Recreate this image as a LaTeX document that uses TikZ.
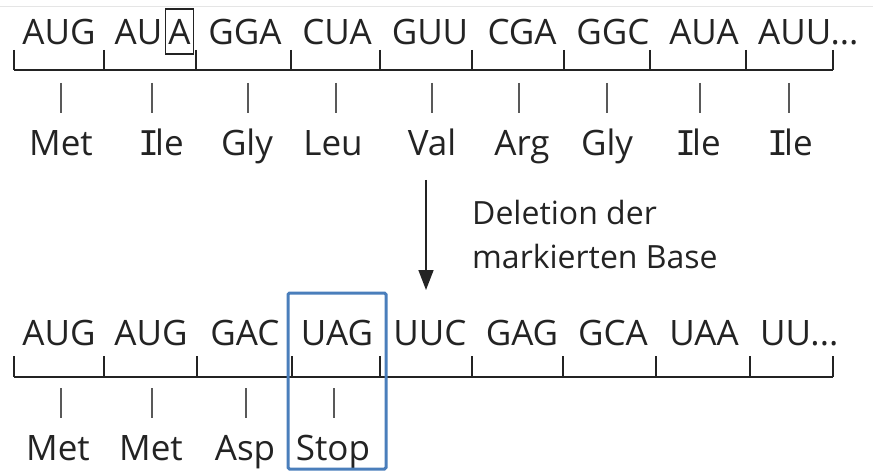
\documentclass[tikz,border=0pt]{standalone}
\usepackage{fontspec}
\setmainfont{Open Sans}
\newfontfamily\slabfont{DejaVu Sans Mono}
\usetikzlibrary{arrows.meta}
\newcommand\seqfont{\fontsize{35}{42}\selectfont}
\newcommand\notefont{\fontsize{32}{45}\selectfont}
% capital I with slab serifs, as in the amino acid labels
\newcommand\slabI{{\slabfont\fontsize{34}{42}\selectfont I}\kern-3.5pt}
\definecolor{markblue}{RGB}{74,126,187}
\definecolor{inkgray}{RGB}{35,35,35}
\begin{document}
\begin{tikzpicture}[x=1pt,y=-1pt,
  seq/.style={font=\seqfont, text=inkgray, inner sep=0pt, anchor=base},
  ruler/.style={line width=2pt, inkgray},
  segtick/.style={line width=1.6pt, inkgray},
  aatick/.style={line width=1.6pt, black!65},
  marked/.style={draw=inkgray, line width=1.5pt, inner xsep=3pt, inner ysep=3pt,
                 text height=33pt, text depth=6pt},
  highlight/.style={draw=markblue, line width=3pt, rounded corners=1.5pt},
  note/.style={font=\notefont, text=inkgray, inner sep=0pt, anchor=base west, align=left}]
\useasboundingbox (0,0) rectangle (873,476);

% faint frame line along the top
\draw[black!10, line width=0.8pt] (0,6) -- (873,6);

% ---------------- original sequence ----------------
\draw[ruler] (14,70) -- (833,70);
\foreach \x in {14,104,196,291,380,472,564,650,746,833}
  \draw[segtick] (\x,50) -- (\x,70);

\node[seq] (t1) at (59,45) {AUG};
\node[seq, marked, anchor=base] (t2m) at (179.5,45) {A};
\node[seq, anchor=base east] (t2) at (162.5,45) {AU};
\foreach \x/\t/\n in {245/GGA/3, 337/CUA/4, 430/GUU/5, 522/CGA/6, 613/GGC/7, 704/AUA/8}
  \node[seq] (t\n) at (\x,45) {\t};
\node[seq, anchor=base west] (t9) at (758,45) {AUU...};

\foreach \x in {61,152,248,336,432,519,607,700,789}
  \draw[aatick] (\x,83) -- (\x,113);
\foreach \x/\t/\n in {61/Met/1, 247/Gly/3, 333/Leu/4, 432/Val/5, 522/Arg/6, 607/Gly/7}
  \node[seq] (p\n) at (\x,156) {\t};
\foreach \x/\n in {161/2, 698/8, 790/9}
  \node[seq] (p\n) at (\x,156) {\slabI le};

% ---------------- deletion arrow ----------------
\coordinate (arrowtop) at (426,180);
\coordinate (arrowtip) at (426,290);
\draw[line width=1.6pt, inkgray, -{Triangle[width=15pt,length=20pt]}] (arrowtop) -- (arrowtip);
\node[note] (note1) at (472,224) {Deletion der};
\node[note] (note2) at (472,268) {markierten Base};

% ---------------- shifted sequence ----------------
\draw[ruler] (14,377) -- (833,377);
\foreach \x in {14,104,197,292,380,472,563,656,750,833}
  \draw[segtick] (\x,356) -- (\x,377);

\foreach \x/\t/\n in {59/AUG/1, 151/AUG/2, 245/GAC/3, 337/UAG/4, 430/UUC/5, 522/GAG/6, 613/GCA/7, 704/UAA/8}
  \node[seq] (b\n) at (\x,345) {\t};
\node[seq, anchor=base west] (b9) at (760,345) {UU...};

\foreach \x in {61,152,246,334}
  \draw[aatick] (\x,388) -- (\x,418);
\foreach \x/\t/\n in {58/Met/1, 151/Met/2, 245/Asp/3, 333/Stop/4}
  \node[seq] (q\n) at (\x,460) {\t};

% stop codon highlight
\draw[highlight] (288,293) rectangle (386,469);
\end{tikzpicture}
\end{document}
